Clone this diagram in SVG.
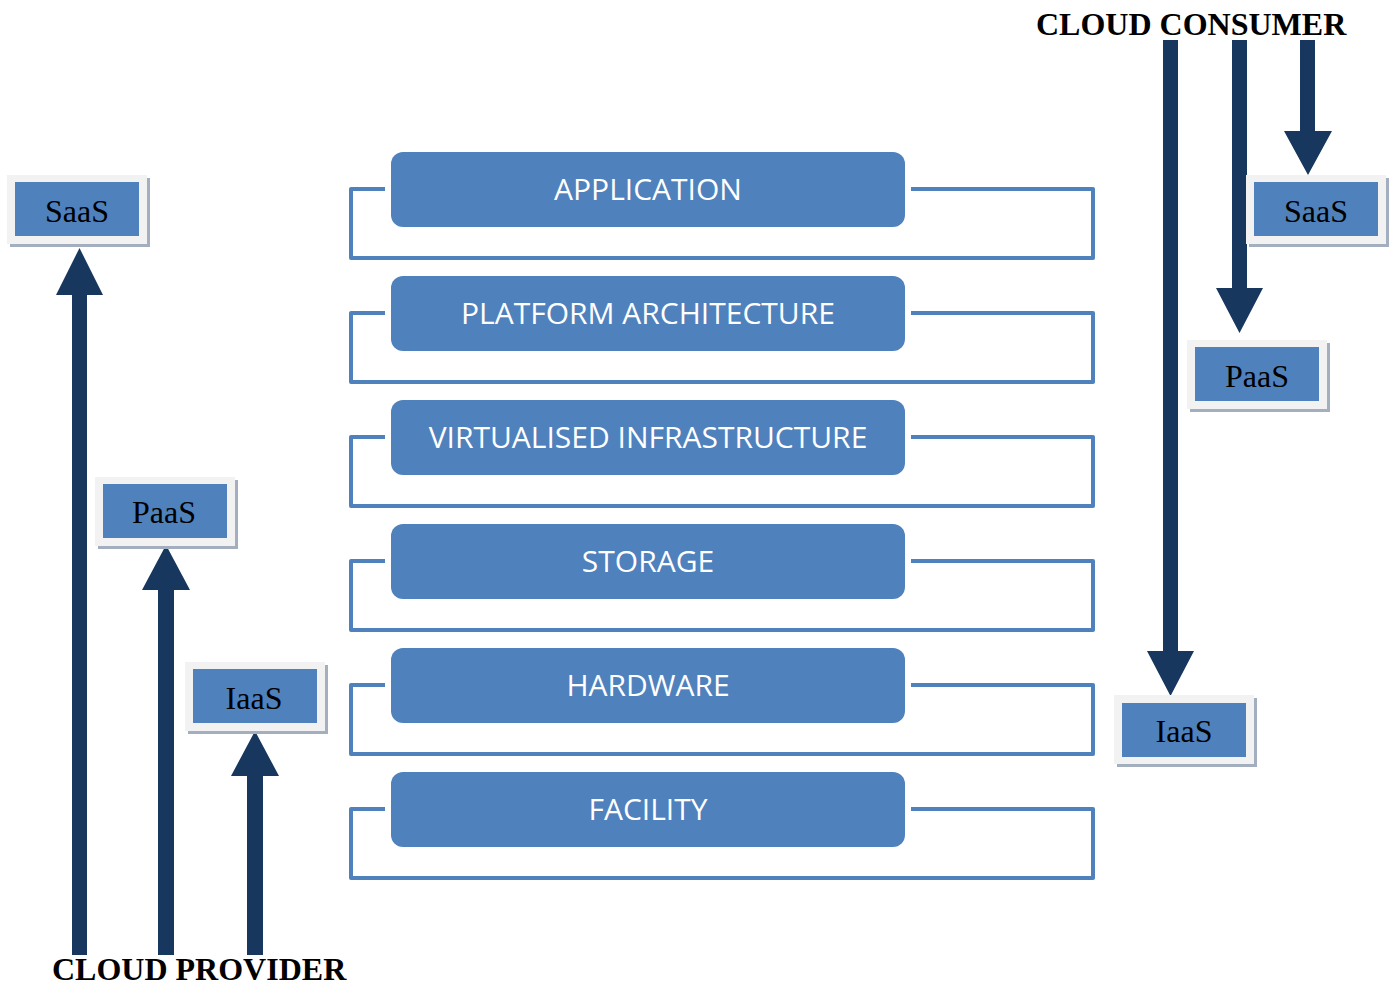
<svg xmlns="http://www.w3.org/2000/svg" width="1390" height="987" viewBox="0 0 1390 987">
<defs>
<style>
.layer{fill:#4F81BD}
.bracket{fill:none;stroke:#4F81BD;stroke-width:4;stroke-linejoin:round}
.ltxt{font-family:"Open Sans","Liberation Sans",sans-serif;font-size:30px;fill:#fff;text-anchor:middle}
.shadow{fill:#A3AEBF}
.frame{fill:#F2F2F2}
.inner{fill:#4F81BD}
.btxt{font-family:"Liberation Serif",serif;font-size:32px;fill:#000;text-anchor:middle}
.title{font-family:"Liberation Serif",serif;font-size:32px;font-weight:bold;fill:#000}
.arrow{fill:#17375E}
</style>
</defs>
<rect width="1390" height="987" fill="#fff"/>

<g id="connectors">
<polygon class="arrow" points="72,955 72,295 56,295 79.5,248 103,295 87,295 87,955"/>
<polygon class="arrow" points="158,955 158,590 142,590 166,545 190,590 174,590 174,955"/>
<polygon class="arrow" points="247,955 247,776 231,776 255,731 279,776 263,776 263,955"/>
<polygon class="arrow" points="1163,40 1178,40 1178,651 1194,651 1170.5,696 1147,651 1163,651"/>
<polygon class="arrow" points="1232,40 1247,40 1247,288 1263,288 1239.5,333 1216,288 1232,288"/>
<polygon class="arrow" points="1300,40 1315,40 1315,131 1332,131 1308,175 1284,131 1300,131"/>
</g>

<g id="layer-application">
<path class="bracket" d="M385,189 H351 V258 H1093 V189 H911"/>
<rect class="layer" x="391" y="152" width="514" height="75" rx="12"/>
<text class="ltxt" x="648" y="200">APPLICATION</text>
</g>
<g id="layer-platform">
<path class="bracket" d="M385,313 H351 V382 H1093 V313 H911"/>
<rect class="layer" x="391" y="276" width="514" height="75" rx="12"/>
<text class="ltxt" x="648" y="324">PLATFORM ARCHITECTURE</text>
</g>
<g id="layer-virtualised">
<path class="bracket" d="M385,437 H351 V506 H1093 V437 H911"/>
<rect class="layer" x="391" y="400" width="514" height="75" rx="12"/>
<text class="ltxt" x="648" y="448">VIRTUALISED INFRASTRUCTURE</text>
</g>
<g id="layer-storage">
<path class="bracket" d="M385,561 H351 V630 H1093 V561 H911"/>
<rect class="layer" x="391" y="524" width="514" height="75" rx="12"/>
<text class="ltxt" x="648" y="572">STORAGE</text>
</g>
<g id="layer-hardware">
<path class="bracket" d="M385,685 H351 V754 H1093 V685 H911"/>
<rect class="layer" x="391" y="648" width="514" height="75" rx="12"/>
<text class="ltxt" x="648" y="696">HARDWARE</text>
</g>
<g id="layer-facility">
<path class="bracket" d="M385,809 H351 V878 H1093 V809 H911"/>
<rect class="layer" x="391" y="772" width="514" height="75" rx="12"/>
<text class="ltxt" x="648" y="820">FACILITY</text>
</g>

<g id="provider-saas">
<rect class="shadow" x="10" y="178" width="140" height="69"/>
<rect class="frame" x="7" y="175" width="140" height="69"/>
<rect class="inner" x="15" y="182" width="124" height="54"/>
<text class="btxt" x="77" y="222">SaaS</text>
</g>
<g id="provider-paas">
<rect class="shadow" x="98" y="480" width="140" height="69"/>
<rect class="frame" x="95" y="477" width="140" height="69"/>
<rect class="inner" x="103" y="484" width="124" height="54"/>
<text class="btxt" x="164" y="523">PaaS</text>
</g>
<g id="provider-iaas">
<rect class="shadow" x="188" y="665" width="140" height="69"/>
<rect class="frame" x="185" y="662" width="140" height="69"/>
<rect class="inner" x="193" y="669" width="124" height="54"/>
<text class="btxt" x="254" y="709">IaaS</text>
</g>

<g id="consumer-saas">
<rect class="shadow" x="1249" y="178" width="140" height="69"/>
<rect class="frame" x="1246" y="175" width="140" height="69"/>
<rect class="inner" x="1254" y="182" width="124" height="54"/>
<text class="btxt" x="1316" y="222">SaaS</text>
</g>
<g id="consumer-paas">
<rect class="shadow" x="1190" y="343" width="140" height="69"/>
<rect class="frame" x="1187" y="340" width="140" height="69"/>
<rect class="inner" x="1195" y="347" width="124" height="54"/>
<text class="btxt" x="1257" y="387">PaaS</text>
</g>
<g id="consumer-iaas">
<rect class="shadow" x="1117" y="698" width="140" height="69"/>
<rect class="frame" x="1114" y="695" width="140" height="69"/>
<rect class="inner" x="1122" y="703" width="124" height="54"/>
<text class="btxt" x="1184" y="742">IaaS</text>
</g>

<g id="label-consumer">
<text class="title" x="1036" y="35">CLOUD CONSUMER</text>
</g>
<g id="label-provider">
<text class="title" x="52" y="980">CLOUD PROVIDER</text>
</g>
</svg>
